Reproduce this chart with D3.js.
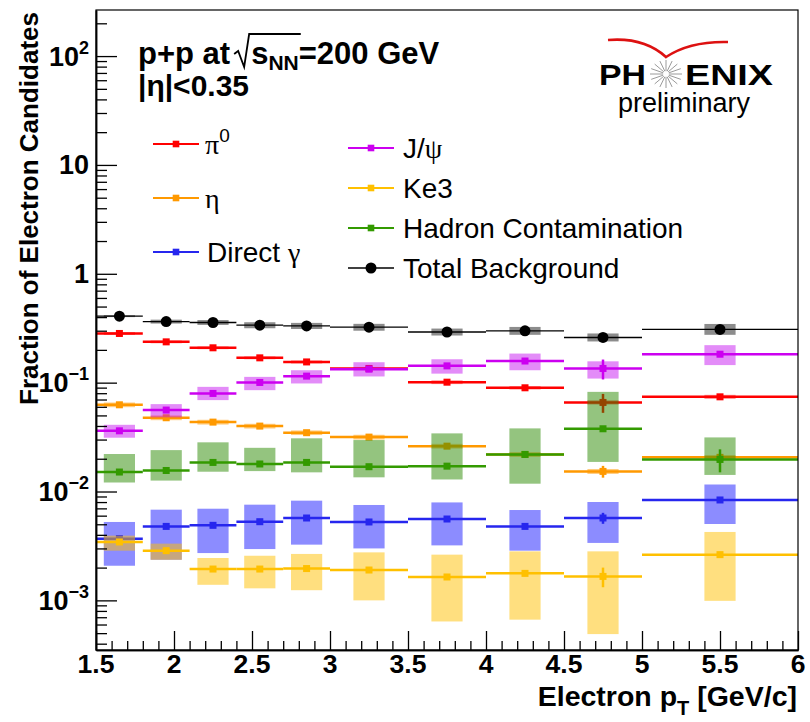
<!DOCTYPE html>
<html>
<head>
<meta charset="utf-8">
<script src="https://cdn.jsdelivr.net/npm/d3@7"></script>
<style>
  body { margin: 0; background: #fff; }
  svg { display: block; }
  text { font-family: "Liberation Sans", Arial, Helvetica, sans-serif; }
</style>
</head>
<body>
<svg id="chart" width="810" height="722"></svg>
<script>
// ---- binning in electron pT [GeV/c] ----
const binLow    = [1.5, 1.8, 2.1, 2.4, 2.7, 3.0, 3.5, 4.0, 4.5, 5.0];
const binHigh   = [1.8, 2.1, 2.4, 2.7, 3.0, 3.5, 4.0, 4.5, 5.0, 6.0];
const binCenter = [1.65, 1.95, 2.25, 2.55, 2.85, 3.25, 3.75, 4.25, 4.75, 5.5];

// ---- background fractions: value, statistical error, systematic band ----
const pi0      = [0.283, 0.237, 0.209, 0.169, 0.155, 0.135, 0.101, 0.0897, 0.0658, 0.0741];
const pi0Stat  = [0.002, 0.002, 0.002, 0.002, 0.002, 0.002, 0.002, 0.002, 0.013, 0.003];
const pi0SysLo = [0.274, 0.230, 0.203, 0.164, 0.150, 0.131, 0.097, 0.0865, 0.0630, 0.0710];
const pi0SysHi = [0.292, 0.244, 0.215, 0.174, 0.160, 0.139, 0.105, 0.0930, 0.0688, 0.0773];

const eta      = [0.0626, 0.0476, 0.0434, 0.0399, 0.0347, 0.0316, 0.0261, 0.0219, 0.0153, 0.0206];
const etaStat  = [0.0006, 0.0005, 0.0005, 0.0005, 0.0005, 0.0005, 0.0006, 0.0007, 0.0019, 0.0008];
const etaSysLo = [0.0595, 0.0452, 0.0412, 0.0379, 0.0330, 0.0300, 0.0248, 0.0208, 0.0145, 0.0196];
const etaSysHi = [0.0657, 0.0500, 0.0456, 0.0419, 0.0364, 0.0332, 0.0274, 0.0230, 0.0161, 0.0216];

const directGamma      = [0.00369, 0.00478, 0.00489, 0.00528, 0.00571, 0.00525, 0.00559, 0.00478, 0.00571, 0.00836];
const directGammaStat  = [0.00015, 0.0001, 0.0001, 0.0001, 0.0001, 0.0001, 0.00015, 0.00015, 0.00066, 0.0003];
const directGammaSysLo = [0.00208, 0.00236, 0.00272, 0.00296, 0.00325, 0.00300, 0.00320, 0.00286, 0.00337, 0.00503];
const directGammaSysHi = [0.00525, 0.00681, 0.00695, 0.00757, 0.00824, 0.00752, 0.00794, 0.00676, 0.00801, 0.0116];

const jpsi      = [0.0361, 0.056, 0.0796, 0.1004, 0.1148, 0.133, 0.1426, 0.158, 0.135, 0.1825];
const jpsiStat  = [0.0008, 0.0015, 0.002, 0.002, 0.002, 0.003, 0.003, 0.004, 0.028, 0.005];
const jpsiSysLo = [0.0312, 0.0480, 0.0691, 0.0853, 0.0983, 0.114, 0.121, 0.130, 0.109, 0.145];
const jpsiSysHi = [0.0410, 0.0635, 0.0915, 0.113, 0.130, 0.154, 0.164, 0.185, 0.157, 0.221];

const ke3      = [0.00344, 0.00286, 0.00194, 0.00194, 0.00196, 0.00190, 0.00164, 0.00177, 0.00166, 0.00263];
const ke3Stat  = [0.0001, 0.0001, 0.0001, 0.0001, 0.0001, 0.0001, 0.0001, 0.0001, 0.00034, 0.0001];
const ke3SysLo = [0.00286, 0.00236, 0.00139, 0.00129, 0.00124, 0.00100, 0.00064, 0.000665, 0.00049, 0.00099];
const ke3SysHi = [0.00393, 0.00332, 0.00245, 0.00257, 0.00267, 0.00276, 0.00263, 0.00282, 0.00282, 0.00425];

const hadron      = [0.0151, 0.0156, 0.0185, 0.0179, 0.0185, 0.0169, 0.0171, 0.0219, 0.0377, 0.0197];
const hadronStat  = [0.0003, 0.0003, 0.0004, 0.0004, 0.0005, 0.0005, 0.0006, 0.0008, 0.0015, 0.0047];
const hadronSysLo = [0.0121, 0.0126, 0.0152, 0.0154, 0.0150, 0.0135, 0.0129, 0.0118, 0.0187, 0.0142];
const hadronSysHi = [0.0221, 0.0240, 0.0283, 0.0252, 0.0308, 0.0297, 0.0342, 0.0380, 0.0823, 0.0314];

const total      = [0.408, 0.364, 0.357, 0.337, 0.332, 0.323, 0.292, 0.299, 0.260, 0.308];
const totalStat  = [0.003, 0.003, 0.003, 0.003, 0.003, 0.004, 0.004, 0.005, 0.012, 0.006];
const totalSysLo = [0.400, 0.349, 0.339, 0.316, 0.311, 0.300, 0.271, 0.275, 0.239, 0.275];
const totalSysHi = [0.417, 0.379, 0.376, 0.359, 0.354, 0.347, 0.314, 0.325, 0.283, 0.346];

// ---- axes ----
const xDomain = [1.5, 6];
const yDomain = [3.5e-4, 265];
const xTickLabels = ["1.5", "2", "2.5", "3", "3.5", "4", "4.5", "5", "5.5", "6"];
const yTickValues = [1e-3, 1e-2, 1e-1, 1, 10, 100];
const yTickLabels = [["10", "\u22123"], ["10", "\u22122"], ["10", "\u22121"], ["1", ""], ["10", ""], ["10", "2"]];
const sysHalfWidth = 0.1;   // half width of the systematic boxes in pT

// ---- drawing ----
const svg = d3.select("#chart");
const plot = { left: 96, right: 798, top: 10, bottom: 650 };
const x = d3.scaleLinear().domain(xDomain).range([plot.left, plot.right]);
const y = d3.scaleLog().domain(yDomain).range([plot.bottom, plot.top]);

const series = [
  { key: "pi0",    v: pi0,         st: pi0Stat,         lo: pi0SysLo,         hi: pi0SysHi,         color: "#ff0000", box: "#ff0000", boxOp: 0.45, marker: "square", lw: 2.5 },
  { key: "eta",    v: eta,         st: etaStat,         lo: etaSysLo,         hi: etaSysHi,         color: "#ff9900", box: "#ff9900", boxOp: 0.5,  marker: "square", lw: 2.5 },
  { key: "gamma",  v: directGamma, st: directGammaStat, lo: directGammaSysLo, hi: directGammaSysHi, color: "#2626ee", box: "#0000ff", boxOp: 0.45, marker: "square", lw: 2.5 },
  { key: "jpsi",   v: jpsi,        st: jpsiStat,        lo: jpsiSysLo,        hi: jpsiSysHi,        color: "#cc00f0", box: "#c000f0", boxOp: 0.45, marker: "square", lw: 2.5 },
  { key: "ke3",    v: ke3,         st: ke3Stat,         lo: ke3SysLo,         hi: ke3SysHi,         color: "#ffc000", box: "#ffc000", boxOp: 0.5,  marker: "square", lw: 2.5 },
  { key: "hadron", v: hadron,      st: hadronStat,      lo: hadronSysLo,      hi: hadronSysHi,      color: "#339a00", box: "#2a8a00", boxOp: 0.5,  marker: "square", lw: 2.5 },
  { key: "total",  v: total,       st: totalStat,       lo: totalSysLo,       hi: totalSysHi,       color: "#000000", box: "#000000", boxOp: 0.45, marker: "circle", lw: 1.3 }
];

svg.append("defs").append("clipPath").attr("id", "plotClip")
  .append("rect").attr("x", plot.left).attr("y", plot.top)
  .attr("width", plot.right - plot.left).attr("height", plot.bottom - plot.top);

const dataLayer = svg.append("g").attr("clip-path", "url(#plotClip)");

series.forEach(s => {
  const g = dataLayer.append("g").attr("class", "series-" + s.key);
  const idx = d3.range(binCenter.length);
  // systematic boxes
  g.selectAll("rect.sys").data(idx).join("rect").attr("class", "sys")
    .attr("x", i => x(binCenter[i] - sysHalfWidth))
    .attr("width", i => x(binCenter[i] + sysHalfWidth) - x(binCenter[i] - sysHalfWidth))
    .attr("y", i => y(s.hi[i]))
    .attr("height", i => y(s.lo[i]) - y(s.hi[i]))
    .attr("fill", s.box).attr("fill-opacity", s.boxOp);
  // bin-width horizontal lines
  g.selectAll("line.bin").data(idx).join("line").attr("class", "bin")
    .attr("x1", i => x(binLow[i])).attr("x2", i => x(binHigh[i]))
    .attr("y1", i => y(s.v[i])).attr("y2", i => y(s.v[i]))
    .attr("stroke", s.color).attr("stroke-width", s.lw);
  // statistical error bars
  g.selectAll("line.stat").data(idx).join("line").attr("class", "stat")
    .attr("x1", i => x(binCenter[i])).attr("x2", i => x(binCenter[i]))
    .attr("y1", i => y(s.v[i] + s.st[i])).attr("y2", i => y(s.v[i] - s.st[i]))
    .attr("stroke", s.color).attr("stroke-width", 2.5);
  // markers
  if (s.marker === "circle") {
    g.selectAll("circle.mk").data(idx).join("circle").attr("class", "mk")
      .attr("cx", i => x(binCenter[i])).attr("cy", i => y(s.v[i])).attr("r", 5.5)
      .attr("fill", s.color);
  } else {
    g.selectAll("rect.mk").data(idx).join("rect").attr("class", "mk")
      .attr("x", i => x(binCenter[i]) - 3.5).attr("y", i => y(s.v[i]) - 3.5)
      .attr("width", 7).attr("height", 7).attr("fill", s.color);
  }
});

// frame
svg.append("rect").attr("x", plot.left).attr("y", plot.top)
  .attr("width", plot.right - plot.left).attr("height", plot.bottom - plot.top)
  .attr("fill", "none").attr("stroke", "#000").attr("stroke-width", 1.2);

// x axis: ticks drawn inward
const xMajor = d3.range(0, xTickLabels.length).map(i => xDomain[0] + 0.5 * i);
const xMinor = d3.range(15, 61).map(k => k / 10).filter(v => Math.abs(v * 2 - Math.round(v * 2)) > 1e-6);
const xAxisG = svg.append("g").attr("transform", `translate(0,${plot.bottom})`);
xAxisG.call(d3.axisBottom(x).tickValues(xMajor).tickSize(-19).tickSizeOuter(0).tickFormat(""));
xAxisG.append("g").call(d3.axisBottom(x).tickValues(xMinor).tickSize(-9).tickSizeOuter(0).tickFormat(""));
xAxisG.selectAll("path.domain").attr("stroke", "#000").attr("stroke-width", 1.5);
xAxisG.selectAll("line").attr("stroke", "#000").attr("stroke-width", 1.3);

svg.append("g").selectAll("text").data(xMajor).join("text")
  .attr("x", d => x(d)).attr("y", 673)
  .attr("text-anchor", "middle").attr("font-size", 26.5).attr("font-weight", "bold")
  .text((d, i) => xTickLabels[i]);

// y axis: log ticks drawn inward
const yMinor = [];
for (let e = -4; e <= 2; e++) {
  for (let k = 2; k <= 9; k++) {
    const v = k * Math.pow(10, e);
    if (v >= yDomain[0] && v <= yDomain[1]) yMinor.push(v);
  }
}
const yAxisG = svg.append("g").attr("transform", `translate(${plot.left},0)`);
yAxisG.call(d3.axisLeft(y).tickValues(yTickValues).tickSize(-21).tickSizeOuter(0).tickFormat(""));
yAxisG.append("g").call(d3.axisLeft(y).tickValues(yMinor).tickSize(-11).tickSizeOuter(0).tickFormat(""));
yAxisG.selectAll("path.domain").attr("stroke", "#000").attr("stroke-width", 1.5);
yAxisG.selectAll("line").attr("stroke", "#000").attr("stroke-width", 1.3);

svg.append("g").selectAll("text").data(yTickValues).join("text")
  .attr("x", 89).attr("y", d => y(d) + 9.5)
  .attr("text-anchor", "end").attr("font-size", 27).attr("font-weight", "bold")
  .each(function (d, i) {
    const t = d3.select(this);
    const [base, exp] = yTickLabels[i];
    t.append("tspan").text(base);
    if (exp) t.append("tspan").attr("font-size", 18).attr("dy", -12).text(exp);
  });

// axis titles
svg.append("text")
  .attr("transform", "translate(38,12) rotate(-90)")
  .attr("text-anchor", "end").attr("font-size", 26).attr("font-weight", "bold")
  .text("Fraction of Electron Candidates");

const xt = svg.append("text").attr("x", 797).attr("y", 706)
  .attr("text-anchor", "end").attr("font-size", 28.5).attr("font-weight", "bold");
xt.append("tspan").text("Electron p");
xt.append("tspan").attr("font-size", 20).attr("dy", 9).text("T");
xt.append("tspan").attr("dy", -9).text(" [GeV/c]");

// ---- header: collision system and acceptance ----
const hdrY = 64;
const hdr1 = svg.append("text").attr("x", 138).attr("y", hdrY)
  .attr("font-size", 31).attr("font-weight", "bold").text("p+p at");
const w1 = hdr1.node().getComputedTextLength();
const rx = 138 + w1 + 4;
const rest = svg.append("text").attr("x", rx + 17).attr("y", hdrY)
  .attr("font-size", 31).attr("font-weight", "bold");
const sPart = rest.append("tspan").text("s");
const nnPart = rest.append("tspan").attr("font-size", 21).attr("dy", 6).text("NN");
rest.append("tspan").attr("dy", -6).text("=200 GeV");
const sLen = sPart.node().getComputedTextLength() + nnPart.node().getComputedTextLength();
svg.append("path")
  .attr("d", `M${rx},${hdrY - 10} L${rx + 4},${hdrY - 13} L${rx + 10},${hdrY + 3} L${rx + 15},${hdrY - 30} L${rx + 19 + sLen},${hdrY - 30}`)
  .attr("fill", "none").attr("stroke", "#000").attr("stroke-width", 1.8);

svg.append("text").attr("x", 138).attr("y", 96)
  .attr("font-size", 30).attr("font-weight", "bold").text("|\u03b7|<0.35");

// ---- legend ----
const legend = svg.append("g").attr("class", "legend");
const legendEntries = [
  { s: "pi0",    x0: 153, x1: 199, tx: 205, y: 144, parts: [["\u03c0", "serif"], ["0", "sup"]] },
  { s: "eta",    x0: 153, x1: 199, tx: 205, y: 198, parts: [["\u03b7", "serif"]] },
  { s: "gamma",  x0: 153, x1: 199, tx: 207, y: 252, parts: [["Direct ", "sans"], ["\u03b3", "serif"]] },
  { s: "jpsi",   x0: 348, x1: 394, tx: 403, y: 148, parts: [["J/", "sans"], ["\u03c8", "serif"]] },
  { s: "ke3",    x0: 348, x1: 394, tx: 403, y: 188, parts: [["Ke3", "sans"]] },
  { s: "hadron", x0: 348, x1: 394, tx: 403, y: 228, parts: [["Hadron Contamination", "sans"]] },
  { s: "total",  x0: 348, x1: 394, tx: 403, y: 268, parts: [["Total Background", "sans"]] }
];
legendEntries.forEach(e => {
  const s = series.find(d => d.key === e.s);
  const g = legend.append("g");
  const cx = (e.x0 + e.x1) / 2;
  g.append("line").attr("x1", e.x0).attr("x2", e.x1).attr("y1", e.y).attr("y2", e.y)
    .attr("stroke", s.color).attr("stroke-width", s.key === "total" ? 1.3 : 2.2);
  if (s.marker === "circle") {
    g.append("circle").attr("cx", cx).attr("cy", e.y).attr("r", 5.5).attr("fill", s.color);
  } else {
    g.append("rect").attr("x", cx - 3.3).attr("y", e.y - 3.3).attr("width", 6.6).attr("height", 6.6)
      .attr("fill", s.color);
  }
  const t = g.append("text").attr("x", e.tx).attr("y", e.y + 10).attr("font-size", 28);
  e.parts.forEach(([txt, kind]) => {
    const ts = t.append("tspan").text(txt);
    if (kind === "serif") ts.style("font-family", "'Liberation Serif', 'DejaVu Serif', serif");
    if (kind === "sup") ts.attr("font-size", 19).attr("dy", -12);
  });
});

// ---- PHENIX preliminary mark ----
const logo = svg.append("g").attr("class", "logo");
logo.append("path")
  .attr("d", "M608,40 Q644,37 666,57 Q690,41 728,42")
  .attr("fill", "none").attr("stroke", "#dd1111").attr("stroke-width", 2.6)
  .attr("stroke-linejoin", "miter");
logo.append("text").attr("x", 599).attr("y", 85).attr("font-size", 30).attr("font-weight", "bold")
  .attr("textLength", 47).attr("lengthAdjust", "spacingAndGlyphs").text("PH");
logo.append("text").attr("x", 685).attr("y", 85).attr("font-size", 30).attr("font-weight", "bold")
  .attr("textLength", 88).attr("lengthAdjust", "spacingAndGlyphs").text("ENIX");
const star = logo.append("g").attr("transform", "translate(666,74)");
d3.range(16).forEach(k => {
  const a = k * Math.PI / 8;
  star.append("line")
    .attr("x1", 3 * Math.cos(a)).attr("y1", 3 * Math.sin(a))
    .attr("x2", 16 * Math.cos(a)).attr("y2", 14 * Math.sin(a))
    .attr("stroke", "#9a9a9a").attr("stroke-width", 1);
});
logo.append("text").attr("x", 684).attr("y", 112).attr("text-anchor", "middle")
  .attr("font-size", 27).text("preliminary");
</script>
</body>
</html>
